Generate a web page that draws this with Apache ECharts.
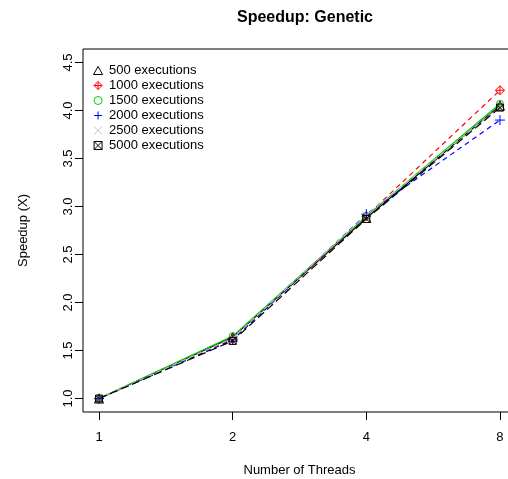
<!DOCTYPE html>
<html><head><meta charset="utf-8">
<script src="https://cdn.jsdelivr.net/npm/echarts@6/dist/echarts.min.js"></script>
<style>html,body{margin:0;padding:0;background:#fff}#c{width:508px;height:479px}</style>
</head><body><div id="c"></div>
<script>
// Data
const threadLabels = ['1','2','4','8'];
const threadPos = [1,2,3,4];
const seriesNames = ['500 executions','1000 executions','1500 executions','2000 executions','2500 executions','5000 executions'];
const s500  = [1.00, 1.64, 2.88, 4.05];
const s1000 = [1.00, 1.62, 2.90, 4.21];
const s1500 = [1.00, 1.65, 2.90, 4.07];
const s2000 = [1.00, 1.61, 2.92, 3.90];
const s2500 = [1.00, 1.63, 2.91, 4.04];
const s5000 = [1.00, 1.60, 2.87, 4.03];
const yTicks = [1.0,1.5,2.0,2.5,3.0,3.5,4.0,4.5];

const values = [s500,s1000,s1500,s2000,s2500,s5000];
const colors = ['#000000','#ff0000','#00cd00','#0000ff','#bebebe','#000000'];
const dashes = ['solid',[5,4],'solid',[5,4],[5,4],[8,4]];
const FONT = '"Liberation Sans", Arial, sans-serif';
const symbols = [
  'path://M0,-1L1,0.75L-1,0.75Z',
  'path://M0,-1L1,0L0,1L-1,0Z M0,-1L0,1 M-1,0L1,0',
  'path://M-1,0A1,1 0 1,0 1,0A1,1 0 1,0 -1,0Z',
  'path://M0,-1L0,1M-1,0L1,0',
  'path://M-1,-1L1,1M1,-1L-1,1',
  'path://M-1,-1L1,-1L1,1L-1,1Z M-1,-1L1,1 M1,-1L-1,1'
];
const symSizes = [9,9,7,10,7,7];

const series = seriesNames.map((name,i)=>({
  name, type:'line',
  data: threadPos.map((x,j)=>[x, values[i][j]]),
  symbol: symbols[i], symbolSize: symSizes[i],
  showAllSymbol:true,
  lineStyle:{color:colors[i], width:1.2, type:dashes[i]},
  itemStyle:{color:'rgba(0,0,0,0)', borderColor:colors[i], borderWidth:1},
  emphasis:{disabled:true},
  animation:false
}));

const chart = echarts.init(document.getElementById('c'), null, {renderer:'canvas'});
chart.setOption({
  backgroundColor:'#fff',
  animation:false,
  title:{text:'Speedup: Genetic', left:300, top:5, textAlign:'center',
    textStyle:{fontFamily:FONT, fontWeight:'bold', fontSize:16, color:'#000'}},
  legend:{
    orient:'vertical', left:93, top:64, padding:0, itemGap:2, itemWidth:12, itemHeight:8,
    textStyle:{fontFamily:FONT, fontSize:13, color:'#000'},
    data: seriesNames.map((n,i)=>({name:n, icon:symbols[i],
      itemStyle:{color:'rgba(0,0,0,0)', borderColor:colors[i], borderWidth:1}})),
    selectedMode:false
  },
  grid:{left:83, top:49, width:433, height:363, show:true, borderColor:'#000', borderWidth:1,
    backgroundColor:'transparent', containLabel:false, outerBoundsMode:'none'},
  xAxis:{
    type:'value', min:0.88, max:4.12,
    name:'Number of Threads', nameLocation:'middle', nameGap:52,
    nameTextStyle:{fontFamily:FONT, fontSize:13, color:'#000'},
    axisLine:{show:false},
    splitLine:{show:false},
    axisTick:{show:true, length:8, lineStyle:{color:'#000'}, customValues:threadPos},
    axisLabel:{show:true, margin:19, fontFamily:FONT, fontSize:13, color:'#000',
      customValues:threadPos, formatter:(v)=>threadLabels[threadPos.indexOf(v)]}
  },
  yAxis:{
    type:'value', min:0.86, max:4.64,
    name:'Speedup (X)', nameLocation:'middle', nameGap:53,
    nameTextStyle:{fontFamily:FONT, fontSize:13, color:'#000'},
    axisLine:{show:false},
    splitLine:{show:false},
    axisTick:{show:true, length:8, lineStyle:{color:'#000'}, customValues:yTicks},
    axisLabel:{show:true, rotate:90, margin:8, fontFamily:FONT, fontSize:13, color:'#000',
      customValues:yTicks, formatter:(v)=>v.toFixed(1)}
  },
  series
});
</script></body></html>
